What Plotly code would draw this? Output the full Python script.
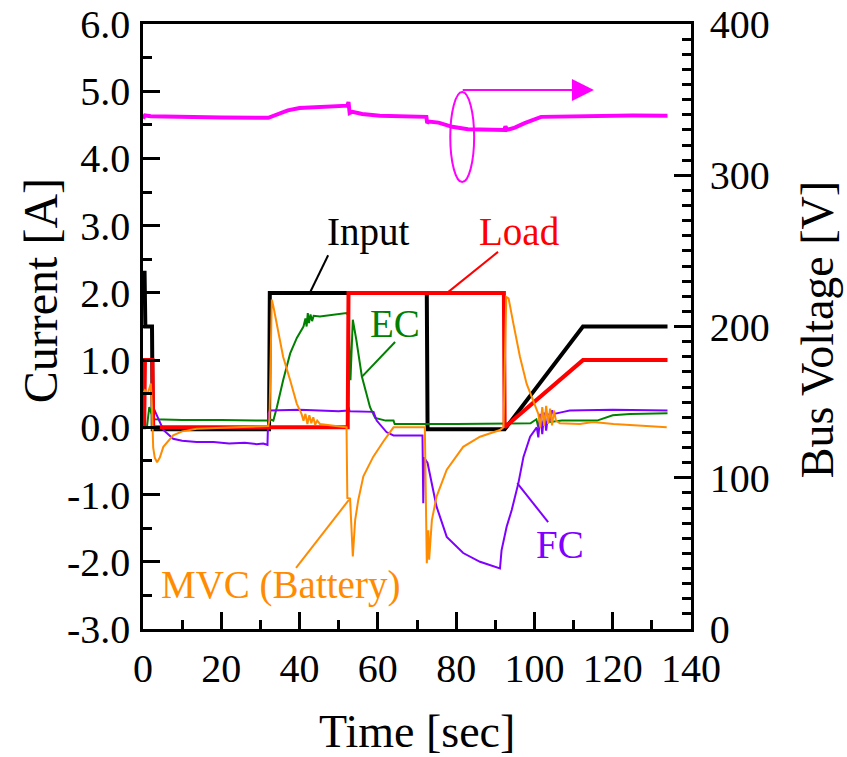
import plotly.graph_objects as go

# ---------------- data ----------------
t_input = [0.0, 0.4, 0.6, 2.3, 2.5, 32.2, 32.4, 72.5, 72.7, 92.4, 112.4, 134.0]
i_input = [2.3, 2.3, 1.5, 1.5, -0.03, -0.03, 2.0, 2.0, -0.03, -0.03, 1.5, 1.5]

t_load = [0.0, 0.3, 0.5, 2.4, 2.6, 52.3, 52.5, 92.2, 92.4, 112.4, 134.0]
i_load = [0.0, 0.0, 1.0, 1.0, 0.0, 0.0, 2.0, 2.0, 0.0, 1.0, 1.0]

t_ec = [0.0, 1.0, 1.6, 2.2, 3.0, 10.0, 20.0, 32.0, 32.5, 33.3, 34.2, 35.8, 37.6, 39.3, 41.0,
        41.5, 41.8, 42.1, 42.4, 42.8, 43.2, 43.6, 45.2, 48.0, 52.0, 52.5, 53.0, 53.6, 54.5,
        55.9, 58.0, 59.3, 62.0, 64.0, 64.3, 80.0, 92.0, 99.0, 100.5, 101.0, 101.5, 102.0,
        102.5, 103.0, 103.5, 104.0, 107.0, 116.0, 120.0, 124.4, 134.0]
i_ec = [0.0, 0.0, 0.3, 0.2, 0.12, 0.11, 0.11, 0.1, 0.12, 0.1, 0.3, 0.7, 1.1, 1.33, 1.5,
        1.62, 1.5, 1.7, 1.55, 1.68, 1.58, 1.66, 1.65, 1.67, 1.7, 1.66, 0.7, 1.6, 1.3,
        0.76, 0.3, 0.14, 0.1, 0.1, 0.05, 0.05, 0.05, 0.06, 0.12, 0.0, 0.14, 0.02, 0.12,
        0.04, 0.1, 0.08, 0.1, 0.1, 0.18, 0.2, 0.21]

t_fc = [0.0, 2.3, 2.6, 4.0, 5.2, 7.7, 10.0, 13.7, 18.0, 22.0, 26.0, 29.0, 30.7, 31.8, 32.0,
        32.4, 40.0, 45.0, 50.0, 52.3, 52.5, 52.8, 56.0, 58.9, 59.7, 62.2, 64.0, 71.4, 71.6,
        71.8, 72.7, 75.0, 77.6, 81.8, 86.1, 91.2, 91.6, 92.9, 94.2, 95.9, 97.2, 98.9, 100.6,
        101.0, 101.5, 102.0, 102.5, 103.0, 103.5, 104.0, 104.5, 105.0, 107.4, 109.0, 120.0, 134.0]
i_fc = [0.0, 0.0, 0.3, 0.12, -0.04, -0.17, -0.2, -0.22, -0.22, -0.24, -0.23, -0.25, -0.24, -0.26, 0.2,
        0.25, 0.26, 0.25, 0.24, 0.25, 0.3, 0.24, 0.24, 0.23, 0.1, -0.07, -0.12, -0.12, -1.13,
        -0.45, -0.53, -1.18, -1.63, -1.87, -2.0, -2.1, -1.83, -1.48, -1.23, -0.83, -0.44, -0.14, 0.0,
        -0.15, 0.2, -0.1, 0.22, -0.05, 0.2, 0.1, 0.25, 0.2, 0.23, 0.25, 0.26, 0.25]

t_mvc = [0.0, 0.5, 1.2, 2.0, 2.3, 2.6, 3.0, 3.6, 4.3, 5.2, 7.7, 10.0, 13.7, 22.2, 30.7, 32.0,
         32.3, 32.9, 33.3, 34.6, 35.8, 37.6, 39.3, 40.5, 41.0, 41.5, 42.0, 42.5, 43.0, 43.5,
         44.0, 44.5, 45.2, 52.0, 52.2, 52.9, 53.6, 54.2, 55.0, 56.3, 58.8, 61.4, 64.0, 70.8,
         72.0, 72.5, 72.9, 73.1, 73.8, 75.0, 77.6, 81.8, 86.1, 91.2, 92.1, 92.8, 93.4, 94.6,
         96.3, 98.0, 99.7, 101.0, 101.5, 102.0, 102.5, 103.0, 103.5, 104.0, 104.5, 105.0,
         105.5, 106.5, 111.6, 115.0, 120.2, 127.0, 133.8]
i_mvc = [0.5, 0.55, 0.5, 0.65, 0.3, -0.3, -0.45, -0.52, -0.45, -0.29, -0.12, -0.06, -0.02, 0.0, 0.01, 0.02,
         0.1, 1.9, 1.8, 1.4, 1.05, 0.7, 0.35, 0.2, 0.1, 0.2, 0.05, 0.18, 0.06, 0.15,
         0.04, 0.1, 0.05, 0.0, -1.05, -1.06, -1.92, -1.38, -1.08, -0.73, -0.44, -0.21, 0.0, 0.0,
         0.0, -2.02, -1.53, -1.97, -1.38, -1.03, -0.63, -0.29, -0.14, -0.04, 0.0, 1.94, 1.92, 1.55,
         1.05, 0.65, 0.4, 0.2, 0.0, 0.3, 0.02, 0.32, 0.05, 0.28, 0.03, 0.25,
         0.1, 0.06, 0.05, 0.08, 0.05, 0.03, 0.0]

t_vbus = [0.0, 0.5, 2.0, 10.0, 20.0, 32.0, 34.0, 37.0, 40.0, 45.0, 50.0, 52.2, 52.5, 52.8, 53.5,
          56.0, 60.5, 66.0, 72.4, 72.6, 73.0, 75.5, 79.0, 83.0, 88.0, 92.3, 92.6, 93.0,
          95.0, 97.5, 101.7, 106.0, 115.0, 125.0, 134.0]
v_bus = [337.5, 339.5, 339.0, 338.5, 338.2, 338.0, 339.8, 342.9, 344.5, 345.3, 345.8, 346.0, 348.4,
         341.2, 342.0, 340.5, 339.4, 339.0, 338.6, 334.6, 335.5, 334.8, 332.0, 330.4, 330.0, 329.9,
         332.3, 330.0, 331.5, 334.5, 338.6, 338.8, 339.4, 339.5, 339.4]

x_ticks = [0, 20, 40, 60, 80, 100, 120, 140]
y_ticks = [-3.0, -2.0, -1.0, 0.0, 1.0, 2.0, 3.0, 4.0, 5.0, 6.0]
y2_ticks = [0, 100, 200, 300, 400]

FONT = "Liberation Serif"
BLACK = "#000000"
RED = "#FF0000"
GREEN = "#008000"
ORANGE = "#FF8C00"
PURPLE = "#7F00FF"
MAGENTA = "#FF00FF"

fig = go.Figure()
fig.add_trace(go.Scatter(x=t_input, y=i_input, mode="lines", line=dict(color=BLACK, width=4), name="Input"))
fig.add_trace(go.Scatter(x=t_ec, y=i_ec, mode="lines", line=dict(color=GREEN, width=2), name="EC"))
fig.add_trace(go.Scatter(x=t_fc, y=i_fc, mode="lines", line=dict(color=PURPLE, width=2), name="FC"))
fig.add_trace(go.Scatter(x=t_load, y=i_load, mode="lines", line=dict(color=RED, width=4), name="Load"))
fig.add_trace(go.Scatter(x=t_mvc, y=i_mvc, mode="lines", line=dict(color=ORANGE, width=2), name="MVC (Battery)"))
fig.add_trace(go.Scatter(x=t_vbus, y=v_bus, mode="lines", line=dict(color=MAGENTA, width=4),
                         name="Bus Voltage", yaxis="y2"))

axis_common = dict(showline=True, linecolor=BLACK, linewidth=2.5, ticks="inside",
                   tickcolor=BLACK, tickwidth=2.5, ticklen=17, showgrid=False, zeroline=False,
                   automargin=False, tickfont=dict(family=FONT, size=40, color=BLACK))

fig.update_layout(
    width=847, height=757,
    margin=dict(l=143, r=156, t=24, b=128),
    paper_bgcolor="white", plot_bgcolor="white",
    showlegend=False,
    font=dict(family=FONT, color=BLACK, size=38),
    xaxis=dict(range=[0, 140], tickvals=x_ticks, ticktext=[str(v) for v in x_ticks],
               mirror=True, ticklabelstandoff=2,
               minor=dict(dtick=10, ticks="inside", ticklen=9, tickwidth=2.5, tickcolor=BLACK),
               **axis_common),
    yaxis=dict(range=[-3, 6], tickvals=y_ticks, ticktext=[f"{v:.1f}" for v in y_ticks],
               ticklabelstandoff=2,
               minor=dict(dtick=0.5, ticks="inside", ticklen=9, tickwidth=2.5, tickcolor=BLACK),
               **axis_common),
    yaxis2=dict(range=[0, 400], tickvals=y2_ticks, ticktext=[str(v) for v in y2_ticks],
                overlaying="y", side="right", ticklabelstandoff=8,
                minor=dict(dtick=10, ticks="inside", ticklen=9, tickwidth=2.5, tickcolor=BLACK),
                **axis_common),
)

# axis titles (placed as paper annotations to match the reference positions)
fig.add_annotation(text="Time [sec]", xref="paper", yref="paper", x=0.5, y=-0.17,
                   xanchor="center", yanchor="middle", showarrow=False,
                   font=dict(family=FONT, size=46, color=BLACK))
fig.add_annotation(text="Current [A]", xref="paper", yref="paper", x=-0.188, y=0.56,
                   xanchor="center", yanchor="middle", showarrow=False, textangle=-90,
                   font=dict(family=FONT, size=48, color=BLACK))
fig.add_annotation(text="Bus Voltage [V]", xref="paper", yref="paper", x=1.23, y=0.494,
                   xanchor="center", yanchor="middle", showarrow=False, textangle=-90,
                   font=dict(family=FONT, size=46, color=BLACK))

# leader lines
leaders = [
    (47.3, 2.56, 42.7, 2.01, BLACK),
    (90.7, 2.61, 77.7, 2.0, RED),
    (64.4, 1.27, 55.9, 0.75, GREEN),
    (103.5, -1.41, 95.6, -0.83, PURPLE),
    (39.1, -2.09, 52.6, -1.08, ORANGE),
]
for x0, y0, x1, y1, c in leaders:
    fig.add_shape(type="line", xref="x", yref="y", x0=x0, y0=y0, x1=x1, y1=y1,
                  line=dict(color=c, width=2))

labels = [
    ("Input", 57.5, 2.91, BLACK),
    ("Load", 96.3, 2.91, RED),
    ("EC", 64.4, 1.55, GREEN),
    ("FC", 106.5, -1.75, PURPLE),
    ("MVC (Battery)", 35.0, -2.35, ORANGE),
]
for txt, x, y, c in labels:
    fig.add_annotation(text=txt, x=x, y=y, xref="x", yref="y", showarrow=False,
                       font=dict(family=FONT, size=39, color=c))

# ellipse + arrow pointing at right axis
fig.add_shape(type="circle", xref="x", yref="y2", x0=78.5, x1=84.6, y0=295.5, y1=355,
              line=dict(color=MAGENTA, width=2))
fig.add_annotation(x=115.2, y=356.4, ax=81.3, ay=356.4, xref="x", yref="y2", axref="x", ayref="y2",
                   text="", showarrow=True, arrowhead=2, arrowsize=2.2, arrowwidth=2,
                   arrowcolor=MAGENTA)

fig.write_html("out.html", config={"displayModeBar": False},
               post_script="document.body.style.margin='0';")
